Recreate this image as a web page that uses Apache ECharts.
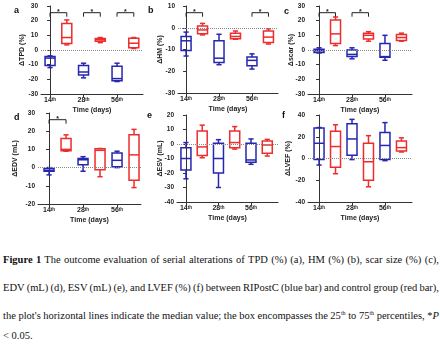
<!DOCTYPE html>
<html>
<head>
<meta charset="utf-8">
<script src="https://cdn.jsdelivr.net/npm/echarts@6/dist/echarts.min.js"></script>
<style>
  html, body { margin: 0; padding: 0; background: #fff; }
  #chart { position: absolute; left: 0; top: 0; width: 440px; height: 228px; }
  .cap {
    position: absolute; left: 3px; width: 436px; white-space: nowrap;
    font-family: "Liberation Serif", "Times New Roman", serif;
    font-size: 10.5px; line-height: 13px; color: #111;
  }
  .cap sup { font-size: 6px; line-height: 0; }
</style>
</head>
<body>
<div id="chart"></div>
<div class="cap fit" style="top:253px"><b>Figure 1</b> The outcome evaluation of serial alterations of TPD (%) (a), HM (%) (b), scar size (%) (c),</div>
<div class="cap fit" style="top:281px">EDV (mL) (d), ESV (mL) (e), and LVEF (%) (f) between RIPostC (blue bar) and control group (red bar),</div>
<div class="cap fit" style="top:309px">the plot's horizontal lines indicate the median value; the box encompasses the 25<sup>th</sup> to 75<sup>th</sup> percentiles, *<i>P</i></div>
<div class="cap" style="top:329px">&lt; 0.05.</div>
<script>
// -- Time points (x tick labels) --
const days = ['14', '28', '56'];

// -- Box values per time point: [min, Q1, median, Q3, max] --
const tpdBlue = [[-12, -10.5, -5.5, -4.5, -4], [-19, -17, -15, -10.5, -9], [-21.5, -21, -19.5, -11, -9]];
const tpdRed = [[3.5, 4.5, 8.5, 18, 20.5], [5, 6, 7, 7.8, 8.5], [1, 1.5, 4.6, 8, 8.5]];
const hmBlue = [[-13, -10.5, -6, -4, -2], [-17, -16, -14, -6, -3], [-19, -17.5, -15, -13.5, -12]];
const hmRed = [[-3.3, -2.8, -1, 0.8, 2], [-5.3, -5, -4, -2.5, -1.5], [-7.5, -6.8, -4.3, -1.5, -0.5]];
const scarBlue = [[-2, -1.7, -0.5, 0.5, 1.5], [-6, -4.5, -3, 0, 1.5], [-7, -5, -4.5, 4.5, 10]];
const scarRed = [[3, 4.5, 11, 20.5, 22.5], [6, 7.5, 10, 11.5, 12.5], [6, 6.5, 8.5, 10.5, 11.5]];
const edvBlue = [[-4, -2, -1.5, -0.5, 0], [-2, 1.5, 4.3, 5, 6], [0, 0.5, 4, 8, 9]];
const edvRed = [[9, 9.3, 10, 16, 18], [-5, -1.2, 9.5, 10.3, 10.5], [-11, -7, 7, 18, 21]];
const esvBlue = [[-24, -18, -10, -2.5, 1], [-30, -20, -10, 0.5, 3], [-14, -12.5, -11, 0.5, 3.5]];
const esvRed = [[-9.5, -8, -2, 9, 13], [-3.5, -2.5, 1, 9, 12], [-8.3, -6.4, -0.7, 2, 3.2]];
const lvefBlue = [[-6, -1, 14, 28, 28.5], [-1, 3, 18, 32, 36], [-2, -1, 12, 24, 33]];
const lvefRed = [[-14, -8, 11, 25, 31], [-26, -20, -3, 14, 21], [6, 7, 10, 16, 19]];

// -- Time points with *P < 0.05 --
const tpdSig = [0, 1, 2];
const hmSig = [0, 2];
const scarSig = [0, 1];
const edvSig = [0];
const esvSig = [];
const lvefSig = [];

const BLUE = '#2626b0';
const RED = '#ee2c2c';
const AXIS = '#333';
const FONT = '"Liberation Sans", Arial, sans-serif';

// titleX = centre of the rotated y-axis title
const panels = [
  { tag: 'a', title: 'ΔTPD (%)', blue: tpdBlue, red: tpdRed, sig: tpdSig, y: [-30, 30, 10],
    box: { left: 41, top: 6, width: 102, height: 88 }, x: [-0.54, 5.55], tagPos: [17, 11], titleX: 22 },
  { tag: 'b', title: 'ΔHM (%)', blue: hmBlue, red: hmRed, sig: hmSig, y: [-30, 10, 10],
    box: { left: 178, top: 6, width: 100, height: 87 }, x: [-0.49, 5.58], tagPos: [151, 11], titleX: 160 },
  { tag: 'c', title: 'Δscar (%)', blue: scarBlue, red: scarRed, sig: scarSig, y: [-30, 30, 10],
    box: { left: 308, top: 6, width: 104, height: 88 }, x: [-0.67, 5.64], tagPos: [287, 12], titleX: 291 },
  { tag: 'd', title: 'ΔEDV (mL)', blue: edvBlue, red: edvRed, sig: edvSig, y: [-20, 30, 10],
    box: { left: 38, top: 113, width: 103, height: 91 }, x: [-0.65, 5.41], tagPos: [17, 118], titleX: 15 },
  { tag: 'e', title: 'ΔESV (mL)', blue: esvBlue, red: esvRed, sig: esvSig, y: [-40, 20, 10],
    box: { left: 177, top: 115, width: 101, height: 87 }, x: [-0.55, 5.66], tagPos: [150, 116], titleX: 160 },
  { tag: 'f', title: 'ΔLVEF (%)', blue: lvefBlue, red: lvefRed, sig: lvefSig, y: [-40, 40, 20],
    box: { left: 308, top: 115, width: 104, height: 87 }, x: [-0.67, 5.64], tagPos: [285, 116], titleX: 288 }
];

// -- Box + whiskers with half-width caps (GraphPad style) --
function boxRenderer(color) {
  return function (params, api) {
    const x = api.value(0);
    const pts = [1, 2, 3, 4, 5].map(k => api.coord([x, api.value(k)]));
    const cx = pts[0][0];
    const [pMin, pQ1, pMed, pQ3, pMax] = pts.map(p => p[1]);
    const hw = 5, cw = 2.6;
    const style = { stroke: color, lineWidth: 1.5, fill: null };
    const line = (x1, y1, x2, y2) => ({ type: 'line', shape: { x1, y1, x2, y2 }, style });
    return {
      type: 'group',
      children: [
        { type: 'rect', shape: { x: cx - hw, y: pQ3, width: 2 * hw, height: pQ1 - pQ3 },
          style: { stroke: color, lineWidth: 1.5, fill: 'rgba(0,0,0,0)' } },
        line(cx - hw, pMed, cx + hw, pMed),
        line(cx, pQ3, cx, pMax),
        line(cx - cw, pMax, cx + cw, pMax),
        line(cx, pQ1, cx, pMin),
        line(cx - cw, pMin, cx + cw, pMin)
      ]
    };
  };
}

// -- Significance bracket from blue box to red box --
function bracketRenderer(params, api) {
  const p1 = api.coord([api.value(0), api.value(1)]);
  const p2 = api.coord([api.value(2), api.value(1)]);
  const y = p1[1] + 6.7;
  return {
    type: 'group',
    children: [
      { type: 'polyline', shape: { points: [[p1[0], y + 4], [p1[0], y], [p2[0], y], [p2[0], y + 4]] },
        style: { stroke: '#222', lineWidth: 1, fill: null } },
      { type: 'text', style: { text: '*', x: (p1[0] + p2[0]) / 2, y: y - 0.5, align: 'center',
        verticalAlign: 'middle', fontSize: 7, fontWeight: 'bold', fill: '#222', fontFamily: FONT } }
    ]
  };
}

const grid = [], xAxis = [], yAxis = [], series = [], graphic = [];

panels.forEach((p, i) => {
  grid.push(Object.assign({ containLabel: false }, p.box));
  xAxis.push({
    type: 'value', gridIndex: i, min: p.x[0], max: p.x[1],
    name: 'Time (days)', nameLocation: 'middle', nameGap: 13,
    nameTextStyle: { fontSize: 7, fontWeight: 'bold', color: '#222', fontFamily: FONT },
    axisLine: { show: true, onZero: false, lineStyle: { color: AXIS, width: 1 } },
    axisTick: { show: true, length: 3, customValues: [0, 2, 4], lineStyle: { color: AXIS } },
    axisLabel: {
      customValues: [0, 2, 4], margin: 3,
      formatter: v => '{n|' + days[v / 2] + '}{s|th}',
      rich: {
        n: { fontSize: 7, fontWeight: 'bold', color: '#222', fontFamily: FONT },
        s: { fontSize: 4.5, fontWeight: 'bold', color: '#222', fontFamily: FONT, verticalAlign: 'top' }
      }
    },
    splitLine: { show: false }
  });
  yAxis.push({
    type: 'value', gridIndex: i, min: p.y[0], max: p.y[1], interval: p.y[2],
    axisLine: { show: true, lineStyle: { color: AXIS, width: 1 } },
    axisTick: { show: true, length: 3, lineStyle: { color: AXIS } },
    axisLabel: { fontSize: 6.5, fontWeight: 'bold', color: '#222', fontFamily: FONT, margin: 3 },
    splitLine: { show: false }
  });

  series.push({
    type: 'custom', xAxisIndex: i, yAxisIndex: i, renderItem: boxRenderer(BLUE),
    encode: { x: 0, y: [1, 2, 3, 4, 5] }, silent: true, z: 3,
    data: p.blue.map((b, j) => [2 * j].concat(b)),
    markLine: {
      silent: true, symbol: 'none', label: { show: false },
      lineStyle: { type: 'dotted', color: '#888', width: 1 },
      data: [{ yAxis: 0 }]
    }
  });
  series.push({
    type: 'custom', xAxisIndex: i, yAxisIndex: i, renderItem: boxRenderer(RED),
    encode: { x: 0, y: [1, 2, 3, 4, 5] }, silent: true, z: 3,
    data: p.red.map((r, j) => [2 * j + 1].concat(r))
  });
  if (p.sig.length) {
    series.push({
      type: 'custom', xAxisIndex: i, yAxisIndex: i, renderItem: bracketRenderer,
      encode: { x: [0, 2], y: 1 }, silent: true, z: 4,
      data: p.sig.map(j => [2 * j, p.y[1], 2 * j + 1])
    });
  }

  graphic.push({
    type: 'text', left: p.tagPos[0] - 3, top: p.tagPos[1] - 5,
    style: { text: p.tag, fontSize: 9, fontWeight: 'bold', fill: '#111', fontFamily: FONT }
  });
  // rotated y-axis title, centred on the plot height
  graphic.push({
    type: 'text', x: p.titleX, y: p.box.top + p.box.height / 2, rotation: Math.PI / 2,
    style: { text: p.title, align: 'center', verticalAlign: 'middle', fontSize: 7,
      fontWeight: 'bold', fill: '#222', fontFamily: FONT }
  });
});

const chart = echarts.init(document.getElementById('chart'), null, { renderer: 'canvas' });
chart.setOption({
  animation: false,
  backgroundColor: '#fff',
  grid, xAxis, yAxis, series, graphic
});

// -- Justify each caption line to the full width by adjusting word spacing --
document.querySelectorAll('.cap.fit').forEach(el => {
  const spaces = (el.textContent.match(/ /g) || []).length;
  el.style.width = 'max-content';
  const natural = el.getBoundingClientRect().width;
  el.style.width = '';
  if (spaces) el.style.wordSpacing = ((436 - natural) / spaces) + 'px';
});
</script>
</body>
</html>
